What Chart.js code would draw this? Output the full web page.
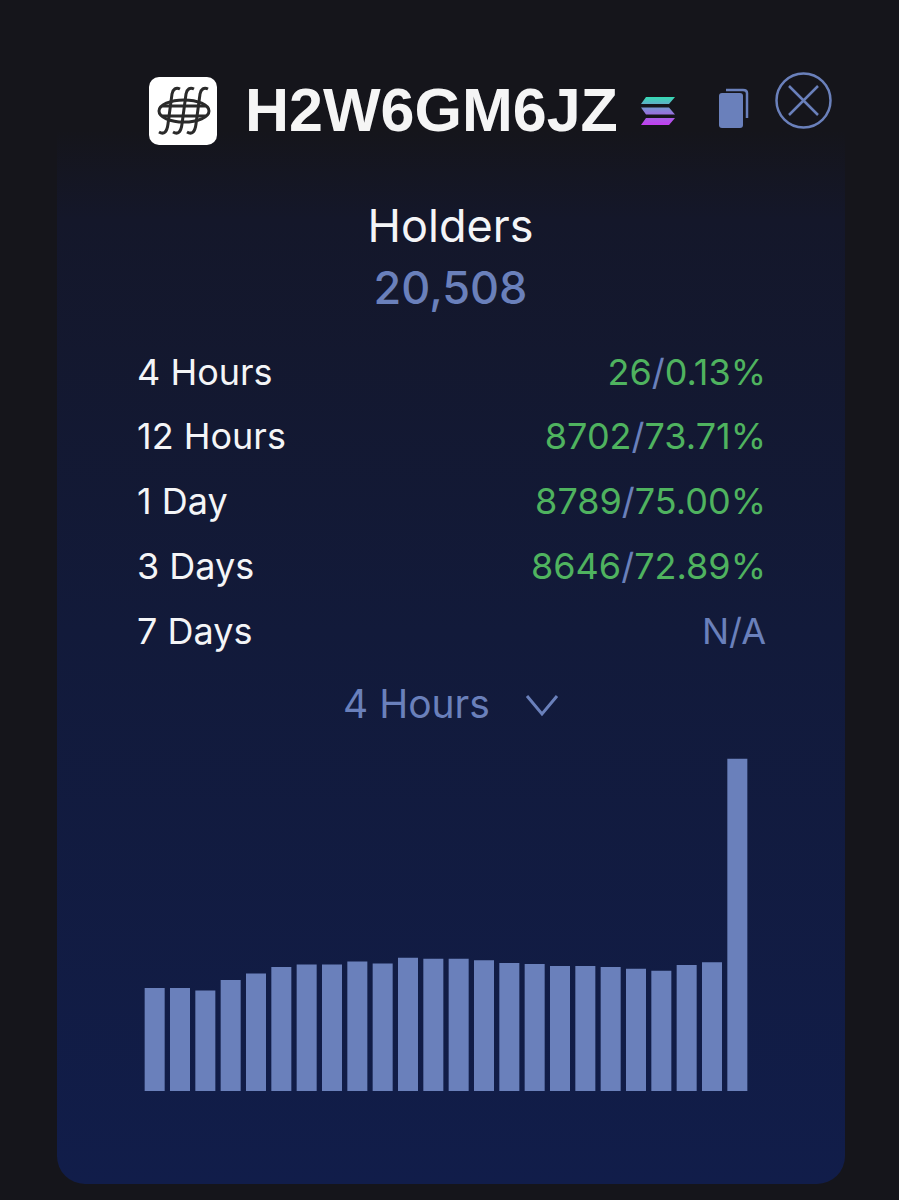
<!DOCTYPE html>
<html>
<head>
<meta charset="utf-8">
<script src="https://cdn.jsdelivr.net/npm/chart.js@4"></script>
<style>
html, body { margin: 0; padding: 0; }
body { width: 899px; height: 1200px; background: #15151b; position: relative; overflow: hidden; font-family: Inter, "Open Sans", sans-serif; }
#card { position: absolute; left: 57px; top: 130px; width: 788px; height: 1054px; border-radius: 0 0 28px 28px;
  background: linear-gradient(to bottom, #15151b 0px, #14172a 90px, #121a3a 500px, #111d4a 1054px); }
.t { position: absolute; white-space: nowrap; line-height: 1; }
.c { left: 1px; width: 899px; text-align: center; }
.l { left: 137px; color: #f4f5f7; font-size: 36px; }
.r { right: 133px; color: #4fb35f; font-size: 36px; }
.r span { color: #6a80bb; }
#name { left: 245px; top: 80px; font-family: "Liberation Sans", Arial, sans-serif; font-weight: 700; font-size: 61px; color: #f5f5f5; }
#chartBox { position: absolute; left: 141.500px; top: 751px; width: 608px; height: 340px; }
svg { position: absolute; }
</style>
</head>
<body>
<div id="card"></div>

<svg style="left:149px;top:77px" width="68" height="68" viewBox="0 0 68 68">
  <rect width="68" height="68" rx="10" fill="#fff"/>
  <g fill="none" stroke="#2a2a2a" stroke-width="3">
    <path d="M10 55c5 3 8 0 9-8l4-30c1-5 4-7 8-5"/>
    <path d="M24 55c5 3 8 0 9-8l4-30c1-5 4-7 8-5"/>
    <path d="M38 55c5 3 8 0 9-8l4-30c1-5 4-7 8-5"/>
    <ellipse cx="35" cy="34" rx="25" ry="11"/>
    <path d="M13 29h44M13 39h44"/>
  </g>
</svg>
<div class="t" id="name">H2W6GM6JZ</div>

<svg style="left:640px;top:96px" width="36" height="30" viewBox="0 0 36 30">
  <defs><linearGradient id="sol" x1="0" y1="0" x2="0" y2="1">
    <stop offset="0" stop-color="#35dcb4"/><stop offset="0.5" stop-color="#8a7fd8"/><stop offset="1" stop-color="#c33df0"/>
  </linearGradient></defs>
  <path d="M6 1h29l-6 7H1zM1 11.500h28l6 7H6zM6 22h29l-6 7H1z" fill="url(#sol)"/>
</svg>

<svg style="left:717px;top:87px" width="34" height="42" viewBox="0 0 34 42">
  <path d="M9 3h17c2 0 4 1 4 3v25" fill="none" stroke="#6a80bb" stroke-width="2.500"/>
  <rect x="2" y="6" width="24" height="35" rx="3" fill="#6a80bb"/>
</svg>

<svg style="left:774px;top:71px" width="59" height="59" viewBox="0 0 59 59">
  <circle cx="29.500" cy="29.500" r="27" fill="none" stroke="#6a80bb" stroke-width="2.500"/>
  <path d="M15 15l29 29M44 15l-29 29" fill="none" stroke="#6a80bb" stroke-width="2.500"/>
</svg>

<div class="t c" style="top:203px;font-size:45px;color:#f4f5f7">Holders</div>
<div class="t c" style="top:265px;font-size:45px;font-weight:500;color:#6a80bb">20,508</div>

<div class="t l" style="top:354px">4 Hours</div>
<div class="t r" style="top:354px">26<span>/</span>0.13%</div>
<div class="t l" style="top:418px">12 Hours</div>
<div class="t r" style="top:418px">8702<span>/</span>73.71%</div>
<div class="t l" style="top:483px">1 Day</div>
<div class="t r" style="top:483px">8789<span>/</span>75.00%</div>
<div class="t l" style="top:548px">3 Days</div>
<div class="t r" style="top:548px">8646<span>/</span>72.89%</div>
<div class="t l" style="top:613px">7 Days</div>
<div class="t r" style="top:613px;color:#6a80bb;right:133px">N/A</div>

<div class="t" style="left:343px;top:684px;font-size:39px;color:#6a80bb">4 Hours</div>
<svg style="left:524px;top:693px" width="36" height="24" viewBox="0 0 36 24">
  <path d="M3 3l15 18L33 3" fill="none" stroke="#6a80bb" stroke-width="3"/>
</svg>

<div id="chartBox"><canvas id="myChart"></canvas></div>

<script>
// no axis in the picture, so values are relative bar heights read off it
var categories = ['1','2','3','4','5','6','7','8','9','10','11','12','13','14','15','16','17','18','19','20','21','22','23','24'];
var holders = [103, 103, 100.5, 111, 117.5, 124, 126.5, 126.5, 129.5, 127.5, 133.3, 132.3, 132.3, 130.7, 128, 127, 125, 125, 124, 122.3, 120.3, 126, 128.7, 332.3];
var barColor = '#6a80bb';

var ctx = document.getElementById('myChart').getContext('2d');
var myChart = new Chart(ctx, {
    type: 'bar',
    data: {
        labels: categories,
        datasets: [{
            label: 'Holders',
            data: holders,
            backgroundColor: barColor,
            borderWidth: 0,
            barPercentage: 0.79,
            categoryPercentage: 1
        }]
    },
    options: {
        responsive: true,
        maintainAspectRatio: false,
        animation: false,
        layout: { padding: 0 },
        plugins: { legend: { display: false }, tooltip: { enabled: false } },
        scales: {
            x: { display: false },
            y: { display: false, min: 0, max: 340 }
        }
    }
});
</script>
</body>
</html>
